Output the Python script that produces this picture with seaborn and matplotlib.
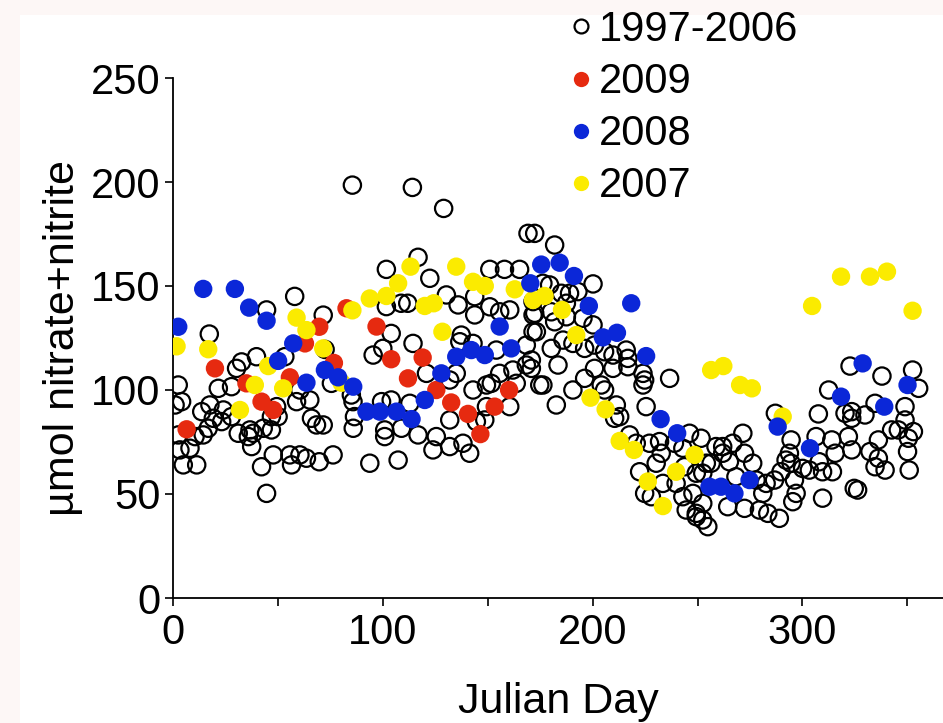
import matplotlib
matplotlib.use("Agg")
import matplotlib.pyplot as plt
from matplotlib.lines import Line2D
from matplotlib.patches import Rectangle
import seaborn as sns
import pandas as pd

# values (Julian day, umol nitrate+nitrite)
hist_day = [85.5, 58, 44.6, 17.3, 71.6, 72.5, 39.8, 32.7, 53.3, 2.5, 4.1, 1, 2.5, 3.3, 8.1, 4.9, 11.3,
            13.7, 17.6, 19.2, 16.8, 14.4, 10.5, 21.6, 27.9, 30.3, 24, 27.9, 23.2, 31.1, 36.7, 35.9, 37.5,
            38.2, 43, 46.9, 42.2, 44.6, 47.8, 55.7, 56.5, 60.5, 63.6, 69.7, 76.3, 58.9, 65.2, 60.5, 66,
            68.4, 71.6, 50.1, 46.9, 49.4, 75.5, 85, 86.5, 85.9,
            114.1, 129, 169.2, 172.4, 116.8, 101.7, 122.4, 151, 158, 165.2, 130.3, 135.9, 143.8, 143.8,
            151, 155.7, 160.5, 171.6, 171.6, 101.7, 108.7, 111.9, 104, 137.4, 136.7, 143, 154.1, 168.4,
            171.6, 95.4, 100, 114.4,
            120.8, 135, 131.9, 143, 149.4, 151.7, 155.7, 162, 163.6, 168.4, 174.8, 85.8, 99.4, 104,
            100.9, 100.9, 108.9, 116.8, 112.9, 93.8, 107.3, 123.9, 125.5, 131.9, 131.9, 138.2, 141.4,
            144.6, 149.4, 160.5, 148.6,
            200.2, 176.3, 185.1, 189, 193, 181.9, 179.5, 187.5, 172.4, 173.2, 180.3, 181.9, 187.5, 195.4,
            200.2, 185.9, 190.6, 196.2, 200.9, 205.7, 209.7, 216, 216.8, 180.3, 183.5, 170.8, 170.8,
            200.9, 209.7, 216.8, 224, 224.8, 224, 236.7, 176.3, 182.7, 190.6, 196.2, 204.1, 205.7, 211.3,
            210.5, 212.9, 217.6, 220.8, 225.5, 227.1, 231.9, 232.7, 230.3, 222.4, 224.8, 228, 233.5,
            239.8, 243, 244.6, 249.4, 254.9, 252.5, 247.8, 243, 246.2, 251.7, 258.8, 262, 256.5, 254.2,
            252.5, 249.4, 239, 243.8, 249.4, 252.5,
            287.1, 322.7, 337.9, 312.5, 352.5, 355.4, 307.6, 320.3, 323.5, 329.8, 334.6, 348.9, 348.9,
            342.5, 345.7, 352.9, 350.5, 336.2, 332.2, 336.2, 339.4, 334.6, 350.1, 350.9, 323.5, 315.6,
            314, 321.9, 323.5, 306.5, 308, 309.6, 314.3, 294.6, 293.8, 294.6, 296.2, 297, 295.4, 300.1,
            289.8, 286.7, 282.7, 276.3, 272.4, 266.8, 271.6, 262, 265.2, 268.3, 277.9, 281.1, 272.4,
            264.4, 279.5, 283.5, 289, 309.6, 324.7, 326.3, 292.2, 303.3]
hist_val = [198.5, 145, 138.5, 126.9, 136, 119.5, 116, 113.5, 116, 102.4, 94.4, 92.8, 78.4, 71.2, 72, 64, 64,
            89.6, 92.8, 86.4, 81.6, 78.4, 77.6, 100.8, 101.6, 110.4, 90.4, 87.2, 84.8, 79.2, 80.8, 77.6, 72.8,
            79.2, 81.6, 80.8, 63.1, 50.3, 68.8, 68.8, 64, 68.8, 67.2, 65.5, 68.8, 94.4, 95.2, 100, 86.4,
            83.2, 83.2, 87.2, 87.2, 92, 103.2, 97.6, 87.2, 81.6,
            197.4, 187.3, 175.3, 175.3, 163.8, 158, 153.7, 158, 158, 158, 145.7, 140.9, 144.9, 136.1,
            140, 137.6, 138.5, 142.5, 136.1, 140.1, 141.7, 141.7, 127.2, 126.4, 123.2, 122.4, 119.2, 121.6,
            128, 116.8, 120, 122.4,
            108, 108, 104.8, 100, 102.4, 103.2, 108, 109.6, 103.2, 112, 102.4, 94.4, 94.4, 95.2,
            80.8, 77.6, 81.6, 78.4, 93.6, 64.8, 66.3, 71.2, 77.6, 85.6, 72.8, 74.4, 69.6,
            84.8, 92, 92, 85.6,
            151, 151.3, 146.5, 146.5, 147.3, 169.7, 150.5, 141.7, 136.9, 128, 137.6, 132.8, 135.2, 134.5,
            131.3, 124, 122.4, 120, 121.6, 118.4, 116.8, 119.2, 115.2, 120, 112, 114.4, 110.4,
            110.4, 110.4, 111.2, 108, 104.8, 102.4, 105.6, 102.4, 92.8, 100, 105.6, 102.4, 100, 92.8,
            86.4, 87.2, 78.4, 74.4, 92, 74.4, 75.2, 69.6, 64.8, 60.7, 50.3, 48.7, 55.1,
            55.1, 48.7, 42.3, 40.7, 34.3, 45.5, 50.3, 72, 79.2, 76.8, 72.8, 69.6, 64.8, 64.8,
            60, 60, 74.4, 63.1, 39.1, 37.5,
            88.8, 111.5, 106.7, 100, 109.6, 100.8, 88.5, 88.8, 89.6, 88, 93.6, 92, 85.6,
            80.8, 80.8, 80, 76.8, 76, 70.4, 67.2, 61.5, 63.1, 70.4, 61.5, 71.2, 69.6,
            76, 77.6, 86.4, 77.6, 65.5, 60.7, 60.7, 76, 69.6, 64.8, 56.7, 50.3, 46.3, 62.3,
            60.7, 56.7, 55.1, 64.8, 69.6, 74.4, 79.2, 72.8, 65.5, 58.3, 56.7, 50.3, 43.1,
            43.9, 42.3, 40.7, 38.3, 48, 52.7, 51.9, 66.3, 61.5]

day_2009 = [6.5, 20, 35, 42.2, 47.8, 55.7, 62.9, 69.7, 76.7, 82.7, 97, 104, 119, 112, 125.5, 132.6,
            140.6, 146.5, 153.3, 160.2]
val_2009 = [81.1, 110.4, 103.2, 94.4, 90.4, 106.1, 122.4, 130.4, 113, 139.3, 130.5, 114.8, 115.6, 105.6,
            100, 94, 88.5, 78.8, 92, 100]

day_2008 = [2.5, 14.4, 29.5, 36.3, 44.6, 50.1, 57.3, 63.6, 72.4, 78.7, 85.9, 92.2, 98.6, 106.5, 113.7,
            120, 127.9, 135, 142.2, 148.6, 155.7, 161.2, 170.3, 175.5, 184.3, 191.1, 198.2, 204.9, 211.6,
            218.4, 225.5, 232.4, 240.3, 255.7, 261.2, 267.6, 274.8, 288.2, 303.6, 318.4, 328.7, 339, 350.1]
val_2008 = [130.4, 148.6, 148.6, 139.6, 133.3, 114, 122.4, 103.5, 109.6, 106.1, 101.6, 89.6, 89.6, 89.6, 86,
            95.2, 108, 116, 119.2, 116.8, 130.5, 120, 151.3, 160.3, 161.2, 154.8, 140.4, 125.3, 127.5,
            141.7, 116.3, 86, 79.2, 53.5, 53.5, 50.3, 56.7, 82.4, 72, 96.8, 112.8, 92, 102.4]

day_2007 = [1.7, 16.8, 31.9, 39, 45.4, 52.5, 58.9, 63.6, 71.6, 80.3, 85.5, 93.8, 101.7, 107.3, 113.2,
            120, 124.3, 128.4, 135, 143, 148.6, 162.9, 171.6, 177.1, 185.4, 192.2, 199, 206.2, 212.9,
            219.7, 226.3, 233.5, 239.8, 248.6, 256.5, 262.3, 270.3, 275.9, 290.6, 304.6, 318.4, 332.2,
            340.3, 352.5]
val_2007 = [121, 119.6, 90.4, 102.4, 111.5, 100.8, 134.8, 128.8, 120, 103.5, 138.3, 144, 145.2, 151.3, 159.3,
            140.4, 141.7, 128, 159.3, 152, 150, 148.4, 143.3, 145.2, 138.5, 126.4, 96.3, 90.7, 75.5,
            71.2, 56, 44.2, 60.7, 68.8, 109.6, 111.5, 102.4, 100.8, 87.2, 140.4, 154.5, 154.5,
            156.9, 138.1]

labels = ["1997-2006", "2009", "2008", "2007"]
colors = {"2009": "#e62a10", "2008": "#0b27d8", "2007": "#fbeb00"}

hist = pd.DataFrame({"day": hist_day, "val": hist_val})
yr = {
    "2009": pd.DataFrame({"day": day_2009, "val": val_2009}),
    "2008": pd.DataFrame({"day": day_2008, "val": val_2008}),
    "2007": pd.DataFrame({"day": day_2007, "val": val_2007}),
}

sns.set_theme(style="white")
plt.rcParams["font.family"] = ["Liberation Sans", "DejaVu Sans"]
plt.rcParams["text.color"] = "black"

fig = plt.figure(figsize=(9.43, 7.23), dpi=100)
fig.patches.append(Rectangle((0, 0), 20 / 943, 1, transform=fig.transFigure,
                             facecolor="#fdf7f6", edgecolor="none", zorder=-1))
fig.patches.append(Rectangle((0, 1 - 15 / 723), 1, 15 / 723, transform=fig.transFigure,
                             facecolor="#fdf7f6", edgecolor="none", zorder=-1))
ax = fig.add_axes([173 / 943, 1 - 598 / 723, 1 - 173 / 943, 520 / 723])
ax.set_facecolor("none")

sns.scatterplot(data=hist, x="day", y="val", ax=ax, marker="o", s=155,
                facecolor="none", edgecolor="black", linewidth=1.6, zorder=2)
for name, z in [("2009", 3), ("2007", 4), ("2008", 5)]:
    sns.scatterplot(data=yr[name], x="day", y="val", ax=ax, marker="o", s=175,
                    color=colors[name], edgecolor="none", linewidth=0, zorder=z)

ax.set_xlim(0, 367)
ax.set_ylim(0, 250)
ax.set_xticks([0, 100, 200, 300])
ax.set_xticks([50, 150, 250, 350], minor=True)
ax.set_yticks([0, 50, 100, 150, 200, 250])
sns.despine(ax=ax)
for s in ["left", "bottom"]:
    ax.spines[s].set_color("black")
    ax.spines[s].set_linewidth(1.3)
ax.tick_params(axis="both", which="both", direction="out", length=6, width=1.2,
               color="black", labelsize=30, labelcolor="black", left=True, bottom=True)
ax.tick_params(axis="y", pad=3)
ax.tick_params(axis="x", pad=5)
ax.set_xlabel("Julian Day", fontsize=31, color="black", labelpad=21)
ax.set_ylabel("µmol nitrate+nitrite", fontsize=31, color="black", labelpad=6)

handles = [Line2D([], [], marker="o", linestyle="none", markersize=10,
                  markerfacecolor="none", markeredgecolor="black", markeredgewidth=1.6)]
for name in ["2009", "2008", "2007"]:
    handles.append(Line2D([], [], marker="o", linestyle="none", markersize=11,
                          markerfacecolor=colors[name], markeredgecolor="none"))
fig.legend(handles, labels, loc="upper left", bbox_to_anchor=(543 / 943, 1 + 15 / 723),
           frameon=False, fontsize=30, handlelength=0.6, handletextpad=0.15,
           labelspacing=0.29, borderpad=0.1, labelcolor="black")

fig.savefig("out.png", dpi=100)
